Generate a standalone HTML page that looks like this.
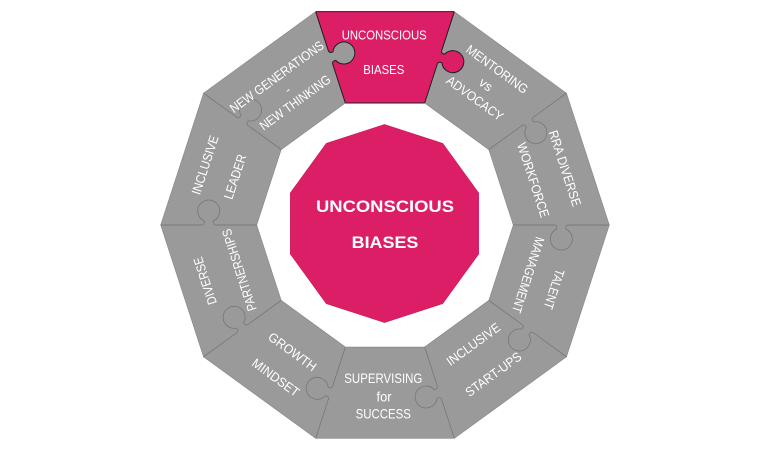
<!DOCTYPE html>
<html>
<head>
<meta charset="utf-8">
<style>
  html, body { margin: 0; padding: 0; background: #ffffff; }
  body { width: 770px; height: 450px; overflow: hidden; }
  svg { display: block; }
  .t { font-family: "Liberation Sans", Arial, sans-serif; fill: #ffffff; text-anchor: middle; }
  .g { font-size: 13px; }
  .s { font-size: 14px; }
  .p { font-size: 13px; }
  .c { font-size: 17px; font-weight: bold; }
</style>
</head>
<body>
<svg width="770" height="450" viewBox="0 0 770 450" xmlns="http://www.w3.org/2000/svg">
  <!-- gray ring -->
  <path fill="#9a9a9a" fill-rule="evenodd" d="M315.69 11.68 L454.31 11.68 L566.46 93.16 L609.3 225 L566.46 356.84 L454.31 438.32 L315.69 438.32 L203.54 356.84 L160.7 225 L203.54 93.16 Z M345.35 102.98 L424.65 102.98 L488.80 149.59 L513.3 225 L488.80 300.41 L424.65 347.02 L345.35 347.02 L281.20 300.41 L256.7 225 L281.20 149.59 Z"/>
  <!-- top pink piece -->
  <path fill="#dc1e66" d="M315.69 11.68 L454.31 11.68 L424.65 102.98 L345.35 102.98 Z"/>

  <!-- knob fills -->
  <g>
    <path transform="translate(385 225) rotate(-108) translate(176.3 0)" fill="#9a9a9a" d="M-7 -1.5 V0 Q-4 0 -4.5 4 A11 11 0 1 0 4.5 4 Q4 0 7 0 V-1.5 Z"/>
    <path transform="translate(385 225) rotate(-72) translate(176.3 0)" fill="#dc1e66" d="M-7 -1.5 V0 Q-4 0 -4.5 4 A11 11 0 1 0 4.5 4 Q4 0 7 0 V-1.5 Z"/>
  </g>

  <!-- outer / inner edges of gray ring -->
  <path fill="none" stroke="#858585" stroke-width="0.6" d="M454.31 11.68 L566.46 93.16 L609.3 225 L566.46 356.84 L454.31 438.32 L315.69 438.32 L203.54 356.84 L160.7 225 L203.54 93.16 L315.69 11.68"/>
  <path fill="none" stroke="#858585" stroke-width="0.6" d="M424.65 102.98 L488.80 149.59 L513.3 225 L488.80 300.41 L424.65 347.02 L345.35 347.02 L281.20 300.41 L256.7 225 L281.20 149.59 L345.35 102.98"/>

  <!-- gray boundaries with knobs -->
  <g fill="none" stroke="#727272" stroke-width="0.7">
    <path transform="translate(385 225) rotate(-36) translate(176.3 0)" d="M-48 0 H-7 Q-4 0 -4.5 4 A11 11 0 1 0 4.5 4 Q4 0 7 0 H48"/>
    <path transform="translate(385 225) rotate(0) translate(176.3 0)" d="M-48 0 H-7 Q-4 0 -4.5 4 A11 11 0 1 0 4.5 4 Q4 0 7 0 H48"/>
    <path transform="translate(385 225) rotate(36) translate(176.3 0)" d="M-48 0 H-7 Q-4 0 -4.5 4 A11 11 0 1 0 4.5 4 Q4 0 7 0 H48"/>
    <path transform="translate(385 225) rotate(72) translate(176.3 0)" d="M-48 0 H-7 Q-4 0 -4.5 4 A11 11 0 1 0 4.5 4 Q4 0 7 0 H48"/>
    <path transform="translate(385 225) rotate(108) translate(176.3 0)" d="M-48 0 H-7 Q-4 0 -4.5 4 A11 11 0 1 0 4.5 4 Q4 0 7 0 H48"/>
    <path transform="translate(385 225) rotate(144) translate(176.3 0)" d="M-48 0 H-7 Q-4 0 -4.5 4 A11 11 0 1 0 4.5 4 Q4 0 7 0 H48"/>
    <path transform="translate(385 225) rotate(180) translate(176.3 0)" d="M-48 0 H-7 Q-4 0 -4.5 4 A11 11 0 1 0 4.5 4 Q4 0 7 0 H48"/>
    <path transform="translate(385 225) rotate(216) translate(176.3 0)" d="M-48 0 H-7 Q-4 0 -4.5 4 A11 11 0 1 0 4.5 4 Q4 0 7 0 H48"/>
  </g>

  <!-- pink piece outline -->
  <g fill="none" stroke="#1e1e1e" stroke-width="1">
    <path d="M315.69 11.68 L454.31 11.68"/>
    <path d="M345.35 102.98 L424.65 102.98"/>
    <path transform="translate(385 225) rotate(-108) translate(176.3 0)" d="M-48 0 H-7 Q-4 0 -4.5 4 A11 11 0 1 0 4.5 4 Q4 0 7 0 H48"/>
    <path transform="translate(385 225) rotate(-72) translate(176.3 0)" d="M-48 0 H-7 Q-4 0 -4.5 4 A11 11 0 1 0 4.5 4 Q4 0 7 0 H48"/>
  </g>

  <!-- center decagon -->
  <path fill="#dc1e66" stroke="#c81a5c" stroke-width="0.6" d="M384.5 124.5 L442.69 143.41 L478.65 192.91 L478.65 254.09 L442.69 303.59 L384.5 322.5 L326.31 303.59 L290.35 254.09 L290.35 192.91 L326.31 143.41 Z"/>

  <!-- center text -->
  <text class="t c" x="385" y="205.8" dy="0.35em" textLength="138" lengthAdjust="spacingAndGlyphs">UNCONSCIOUS</text>
  <text class="t c" x="385" y="242" dy="0.35em" textLength="66.7" lengthAdjust="spacingAndGlyphs">BIASES</text>

  <!-- top pink piece text -->
  <text class="t p" x="384.2" y="35" dy="0.35em" textLength="85" lengthAdjust="spacingAndGlyphs">UNCONSCIOUS</text>
  <text class="t p" x="383.8" y="69.5" dy="0.35em" textLength="41" lengthAdjust="spacingAndGlyphs">BIASES</text>

  <!-- MENTORING vs ADVOCACY -->
  <text class="t g" transform="translate(497.2 69.2) rotate(36)" dy="0.35em" textLength="73" lengthAdjust="spacingAndGlyphs">MENTORING</text>
  <text class="t g" transform="translate(486 84.5) rotate(36)" dy="0.35em">vs</text>
  <text class="t g" transform="translate(475 98.3) rotate(36)" dy="0.35em" textLength="66.7" lengthAdjust="spacingAndGlyphs">ADVOCACY</text>

  <!-- RRA DIVERSE WORKFORCE -->
  <text class="t g" transform="translate(565 168.3) rotate(72)" dy="0.35em" textLength="79" lengthAdjust="spacingAndGlyphs">RRA DIVERSE</text>
  <text class="t g" transform="translate(533.3 180) rotate(72)" dy="0.35em" textLength="78" lengthAdjust="spacingAndGlyphs">WORKFORCE</text>

  <!-- TALENT MANAGEMENT -->
  <text class="t g" transform="translate(554.2 289.2) rotate(108)" dy="0.35em" textLength="41" lengthAdjust="spacingAndGlyphs">TALENT</text>
  <text class="t g" transform="translate(528.3 275) rotate(108)" dy="0.35em" textLength="79" lengthAdjust="spacingAndGlyphs">MANAGEMENT</text>

  <!-- INCLUSIVE START-UPS -->
  <text class="t g" transform="translate(473.3 344.2) rotate(-36)" dy="0.35em" textLength="63" lengthAdjust="spacingAndGlyphs">INCLUSIVE</text>
  <text class="t g" transform="translate(493.3 374.2) rotate(-36)" dy="0.35em" textLength="65.7" lengthAdjust="spacingAndGlyphs">START-UPS</text>

  <!-- SUPERVISING for SUCCESS -->
  <text class="t s" x="383.3" y="378" dy="0.35em" textLength="78" lengthAdjust="spacingAndGlyphs">SUPERVISING</text>
  <text class="t s" x="384" y="396.7" dy="0.35em" textLength="15" lengthAdjust="spacingAndGlyphs">for</text>
  <text class="t s" x="383.3" y="413.7" dy="0.35em" textLength="55.3" lengthAdjust="spacingAndGlyphs">SUCCESS</text>

  <!-- GROWTH MINDSET -->
  <text class="t g" transform="translate(292.5 351.7) rotate(36)" dy="0.35em" textLength="56" lengthAdjust="spacingAndGlyphs">GROWTH</text>
  <text class="t g" transform="translate(275.8 377.5) rotate(36)" dy="0.35em" textLength="55" lengthAdjust="spacingAndGlyphs">MINDSET</text>

  <!-- DIVERSE PARTNERSHIPS -->
  <text class="t g" transform="translate(205 280.8) rotate(-108)" dy="0.35em" textLength="49.3" lengthAdjust="spacingAndGlyphs">DIVERSE</text>
  <text class="t g" transform="translate(239.2 270) rotate(-108)" dy="0.35em" textLength="85.4" lengthAdjust="spacingAndGlyphs">PARTNERSHIPS</text>

  <!-- INCLUSIVE LEADER -->
  <text class="t g" transform="translate(205 165) rotate(-72)" dy="0.35em" textLength="61.3" lengthAdjust="spacingAndGlyphs">INCLUSIVE</text>
  <text class="t g" transform="translate(235 176.7) rotate(-72)" dy="0.35em" textLength="46.4" lengthAdjust="spacingAndGlyphs">LEADER</text>

  <!-- NEW GENERATIONS - NEW THINKING -->
  <text class="t g" transform="translate(276.7 76.7) rotate(-36)" dy="0.35em" textLength="112.4" lengthAdjust="spacingAndGlyphs">NEW GENERATIONS</text>
  <text class="t g" transform="translate(287.5 89.5) rotate(-36)" dy="0.35em">-</text>
  <text class="t g" transform="translate(295 102.5) rotate(-36)" dy="0.35em" textLength="84.2" lengthAdjust="spacingAndGlyphs">NEW THINKING</text>
</svg>
</body>
</html>
